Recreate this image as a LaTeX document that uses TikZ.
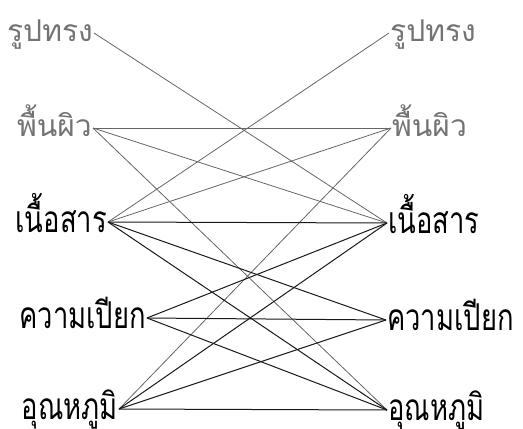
\documentclass[tikz,border=0pt]{standalone}
\usepackage{fontspec}
\newfontfamily\thaifont[Script=Thai]{Loma}
\newfontfamily\thainarrow[Script=Thai, FakeStretch=0.74]{Loma}
\usepackage{tikz}

\begin{document}
\begin{tikzpicture}[x=1pt,y=-1pt,
  lab/.style={font=\thainarrow\fontsize{37}{41}\selectfont, inner sep=1pt,
    text height=21pt, text depth=0pt},
  pale/.style={font=\thaifont\fontsize{30}{34}\selectfont, inner sep=1pt,
    text height=17pt, text depth=0pt, text=black!55},
  link/.style={line width=1pt, black!90},
  palelink/.style={line width=0.8pt, black!60}]

\useasboundingbox (0,0) rectangle (523,429);

% left column
\node[pale, anchor=east] (l1) at (94,33) {รูปทรง};
\node[pale, anchor=east] (l2) at (93,128) {พื้นผิว};
\node[lab, anchor=east] (l3) at (108,222) {เนื้อสาร};
\node[lab, anchor=east] (l4) at (147,318) {ความเปียก};
\node[lab, anchor=east] (l5) at (119,409) {อุณหภูมิ};

% right column
\node[pale, anchor=west] (r1) at (389,33) {รูปทรง};
\node[pale, anchor=west] (r2) at (391,128) {พื้นผิว};
\node[lab, anchor=west] (r3) at (387,223) {เนื้อสาร};
\node[lab, anchor=west] (r4) at (386,320) {ความเปียก};
\node[lab, anchor=west] (r5) at (387,410) {อุณหภูมิ};

\foreach \a/\b in {l1/r3, l2/r2, l2/r3, l2/r5, l3/r1, l3/r2, l5/r2}{
\draw[palelink] (\a.east) -- (\b.west);
}

\foreach \a/\b in {l3/r3, l3/r4, l3/r5, l4/r3, l4/r4, l4/r5, l5/r3, l5/r4, l5/r5}{
\draw[link] (\a.east) -- (\b.west);
}

\end{tikzpicture}
\end{document}
